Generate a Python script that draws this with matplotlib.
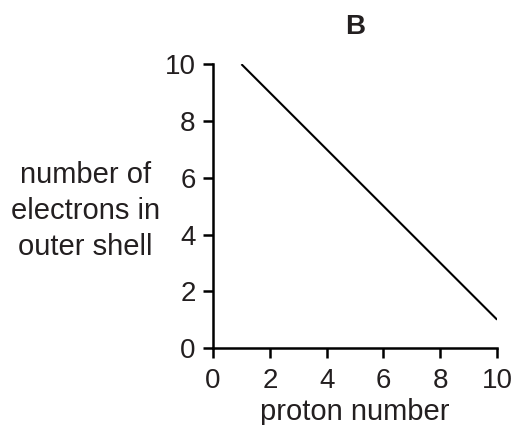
import matplotlib.pyplot as plt

plt.rcParams['font.family'] = ['Liberation Sans', 'DejaVu Sans']

# data: straight line from proton number 1 to 10
proton = [1, 10]
outer_electrons = [10, 1]
ticks = [0, 2, 4, 6, 8, 10]

fig = plt.figure(figsize=(5.12, 4.25), dpi=100)
ax = fig.add_axes([0.416, 0.181, 0.555, 0.668])

ax.plot(proton, outer_electrons, color='black', lw=1.5, solid_capstyle='butt')

ax.set_xlim(0, 10)
ax.set_ylim(0, 10)
ax.set_xticks(ticks)
ax.set_yticks(ticks)

for side in ['top', 'right']:
    ax.spines[side].set_visible(False)
for side in ['left', 'bottom']:
    ax.spines[side].set_linewidth(1.8)
ax.tick_params(direction='out', length=7, width=1.8, labelsize=20,
               labelcolor='#231f20', pad=5.5)
ax.tick_params(axis='x', pad=7)

ax.set_xlabel('proton number', fontsize=21, color='#231f20', labelpad=3)
ax.set_ylabel('number of\nelectrons in\nouter shell', fontsize=21,
              color='#231f20', rotation=0, ha='center', va='center',
              linespacing=1.38)
ax.yaxis.set_label_coords(-0.45, 0.483)
ax.set_title('B', fontsize=20, fontweight='bold', color='#231f20', pad=22)

fig.savefig('out.png', dpi=100)
